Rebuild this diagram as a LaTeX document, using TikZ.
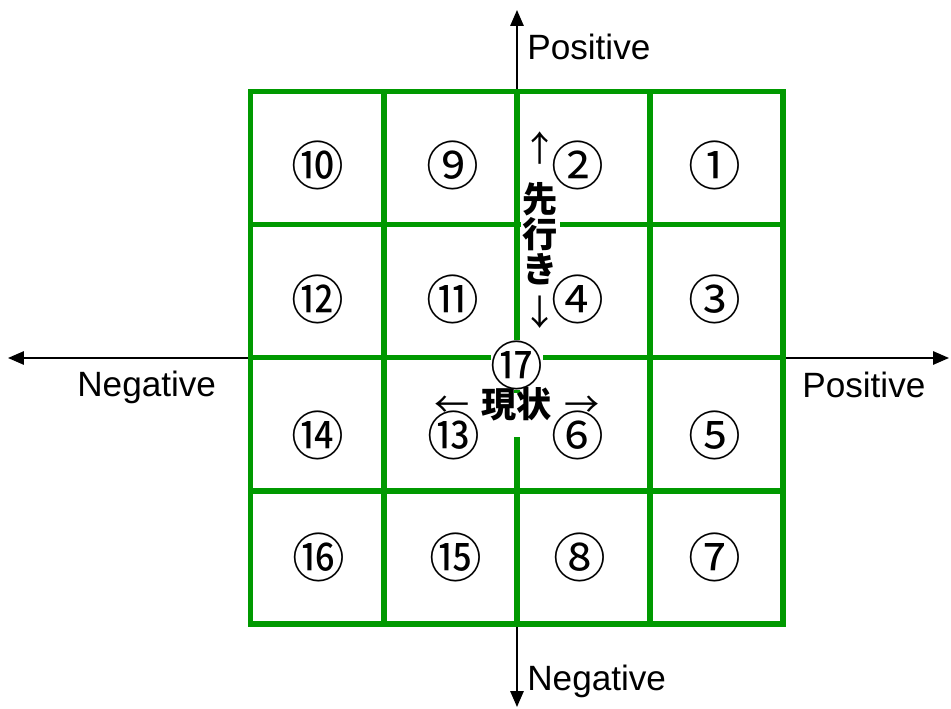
\documentclass[tikz,border=0pt]{standalone}
\usepackage{fontspec}
\setmainfont{Liberation Sans}
\newfontfamily\jpfont{Noto Sans CJK JP}
\usetikzlibrary{arrows.meta}
\definecolor{gridgreen}{RGB}{0,153,0}

\begin{document}
\begin{tikzpicture}[
  axis/.style={line width=1.1pt,{Triangle[length=9pt,width=7.5pt]}-{Triangle[length=9pt,width=7.5pt]}},
  cell/.style={gridgreen,line width=2.85pt},
  num/.style={font=\jpfont\fontsize{30}{30}\selectfont,inner sep=0pt},
  axlbl/.style={font=\fontsize{20}{20}\selectfont,inner sep=0pt},
  tag/.style={font=\jpfont\fontsize{20}{20}\selectfont,fill=white,align=center}
]
\useasboundingbox (-10.34,-7.02) rectangle (8.68,7.16);
% axes
\coordinate (west) at (-10.18,0);
\coordinate (east) at (8.64,0);
\coordinate (north) at (0,6.96);
\coordinate (south) at (0,-6.98);
\draw[axis] (west) -- (east);
\draw[axis] (north) -- (south);
\node[axlbl,anchor=base west] (ypos) at (0.2,5.96) {Positive};
\node[axlbl,anchor=base west] (yneg) at (0.2,-6.66) {Negative};
\node[axlbl,anchor=base west] (xneg) at (-8.8,-0.78) {Negative};
\node[axlbl,anchor=base west] (xpos) at (5.7,-0.80) {Positive};
% 4x4 grid
\draw[cell] (-5.32,-5.32) grid[step=2.66] (5.32,5.32);
\draw[cell] (-5.32,-5.32) rectangle (5.32,5.32);
% centre labels
\node[tag,anchor=west,inner sep=1pt] (ahead) at (0.07,2.56) {↑\\[9pt]{\bfseries 先}\\{\bfseries 行}\\{\bfseries き}\\[4pt]↓};
\node[num,fill=white] (n17) at (0,-0.14) {⑰};
\node[tag,anchor=base,inner xsep=0pt,inner ysep=0pt,text height=0.5cm,text depth=0.38cm] (now) at (0,-1.20) {←\hspace{0.35em}{\bfseries 現状}\hspace{0.35em}→};
% cells
\node[num] (n10) at (-3.98,3.86) {⑩};
\node[num] (n9) at (-1.28,3.86) {⑨};
\node[num] (n2) at (1.22,3.86) {②};
\node[num] (n1) at (3.96,3.86) {①};
\node[num] (n12) at (-3.98,1.18) {⑫};
\node[num] (n11) at (-1.28,1.18) {⑪};
\node[num] (n4) at (1.22,1.18) {④};
\node[num] (n3) at (3.96,1.18) {③};
\node[num] (n14) at (-3.98,-1.54) {⑭};
\node[num] (n13) at (-1.26,-1.54) {⑬};
\node[num] (n6) at (1.22,-1.54) {⑥};
\node[num] (n5) at (3.96,-1.54) {⑤};
\node[num] (n16) at (-3.96,-3.98) {⑯};
\node[num] (n15) at (-1.22,-3.98) {⑮};
\node[num] (n8) at (1.26,-3.98) {⑧};
\node[num] (n7) at (3.96,-3.98) {⑦};
\end{tikzpicture}
\end{document}
